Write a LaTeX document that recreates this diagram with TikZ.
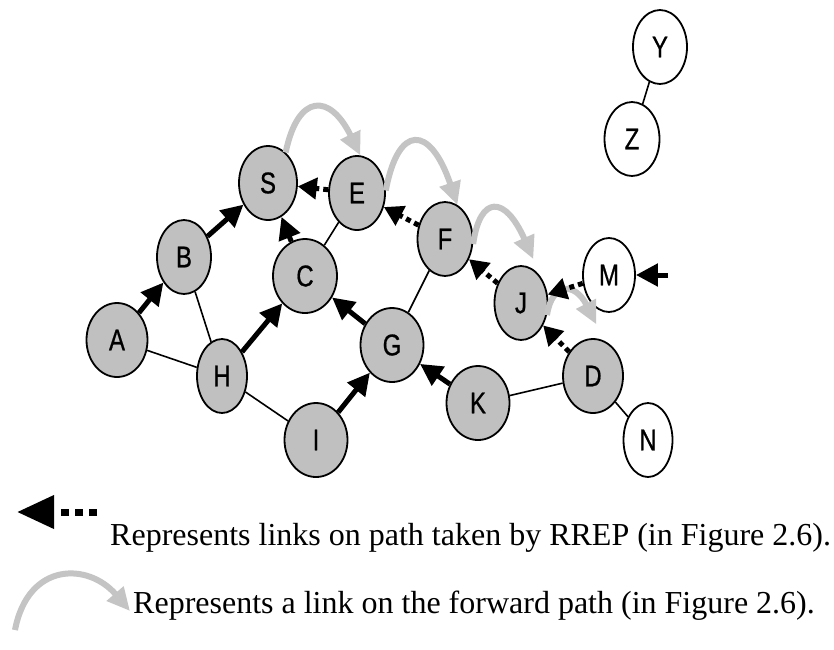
\documentclass[tikz,border=0pt]{standalone}
\usepackage{fontspec}
\usepackage{graphicx}
\setmainfont{Liberation Serif}
\newfontfamily\lettersf[FakeBold=0.8]{Liberation Sans}
\usetikzlibrary{arrows.meta,shapes.geometric}

\definecolor{nodegray}{RGB}{192,192,192}
\definecolor{fwdgray}{RGB}{196,196,196}

% condensed node letters
\newcommand\lbl[1]{\scalebox{0.8}[1]{#1}}

\tikzset{
  host/.style={ellipse, draw=black, line width=1.8pt, fill=nodegray,
    minimum width=#1, minimum height=74pt, inner sep=0pt,
    font=\lettersf\fontsize{30}{30}\selectfont},
  host/.default=60pt,
  idle/.style={host=#1, fill=white},
  idle/.default=54pt,
  link/.style={line width=1.6pt},
  route/.style={line width=5pt, -{Triangle[length=22pt,width=22pt]}},
  rrep/.style={line width=5pt, dash pattern=on 5pt off 4pt,
    -{Triangle[length=19pt,width=21pt]}},
  fwd/.style={draw=fwdgray, line width=6pt, -{Triangle[length=23pt,width=21pt]}},
  legendtext/.style={anchor=west, inner sep=0pt,
    font=\fontsize{32}{32}\selectfont},
}

\begin{document}
\begin{tikzpicture}[x=1pt,y=1pt]
  \fill[white] (0,0) rectangle (834,-649);
  \useasboundingbox (0,0) rectangle (834,-649);

  % hosts
  \node[host=61pt] (A) at (117,-340) {\lbl{A}};
  \node[host=54pt] (B) at (184,-257) {\lbl{B}};
  \node[host=50pt] (H) at (222,-376) {\lbl{H}};
  \node[host=64pt] (C) at (305,-276) {\lbl{C}};
  \node[host=58pt] (S) at (268,-183) {\lbl{S}};
  \node[host=56pt] (E) at (357,-193) {\lbl{E}};
  \node[host=63pt] (I) at (316,-440) {\lbl{I}};
  \node[host=63pt] (G) at (392,-345) {\lbl{G}};
  \node[host=63pt] (K) at (478,-403) {\lbl{K}};
  \node[host=55pt] (F) at (445,-239) {\lbl{F}};
  \node[host=53pt] (J) at (521,-303) {\lbl{J}};
  \node[host=60pt] (D) at (593,-376) {\lbl{D}};
  \node[idle=52pt] (M) at (609,-275) {\lbl{M}};
  \node[idle=49pt] (N) at (648,-440) {\lbl{N}};
  \node[idle=54pt] (Y) at (660,-47) {\lbl{Y}};
  \node[idle=55pt] (Z) at (632,-139) {\lbl{Z}};

  % plain links
  \draw[link] (A) -- (H);
  \draw[link] (B) -- (H);
  \draw[link] (H) -- (I);
  \draw[link] (C) -- (E);
  \draw[link] (F) -- (G);
  \draw[link] (K) -- (D);
  \draw[link] (D) -- (N);
  \draw[link] (Y) -- (Z);

  % route links
  \draw[route] (A) -- (B);
  \draw[route] (B) -- (S);
  \draw[route] (H) -- (C);
  \draw[route] (C) -- (S);
  \draw[route] (I) -- (G);
  \draw[route] (G) -- (C);
  \draw[route] (K) -- (G);

  % forward path
  \draw[fwd] (S.60) .. controls (298,-93) and (330,-93) .. (E.85);
  \draw[fwd] (E.5) .. controls (398,-124) and (430,-124) .. (F.70);
  \draw[fwd] (F.-10) .. controls (480,-195) and (505,-195) .. ([yshift=10pt]J.70);
  \draw[fwd] (J.-25) .. controls (552,-282) and (575,-282) .. ([yshift=14pt]D.85);

  % reply path
  \draw[rrep] (E) -- (S);
  \draw[rrep] (F) -- (E);
  \draw[rrep] (J) -- (F);
  \draw[rrep] (M) -- (J);
  \draw[rrep] (D) -- (J);

  % incoming arrow at M
  \coordinate (Min) at (668,-275);
  \draw[route] (Min) -- (M);

  % legend: three dots and a head
  \coordinate (k1a) at (97,-512);
  \coordinate (k1b) at (17,-512);
  \draw[line width=7pt,
        dash pattern=on 8pt off 6pt on 8pt off 6pt on 8pt off 100pt,
        -{Triangle[length=37pt,width=32pt]}] (k1a) -- (k1b);
  \node[legendtext] (t1) at (110,-538) {Represents links on path taken by RREP (in Figure 2.6).};

  \coordinate (k2a) at (15,-630);
  \coordinate (k2b) at (130,-611);
  \draw[fwd] (k2a) .. controls (28,-562) and (88,-562) .. (k2b);
  \node[legendtext] (t2) at (133,-606) {Represents a link on the forward path (in Figure 2.6).};
\end{tikzpicture}
\end{document}
